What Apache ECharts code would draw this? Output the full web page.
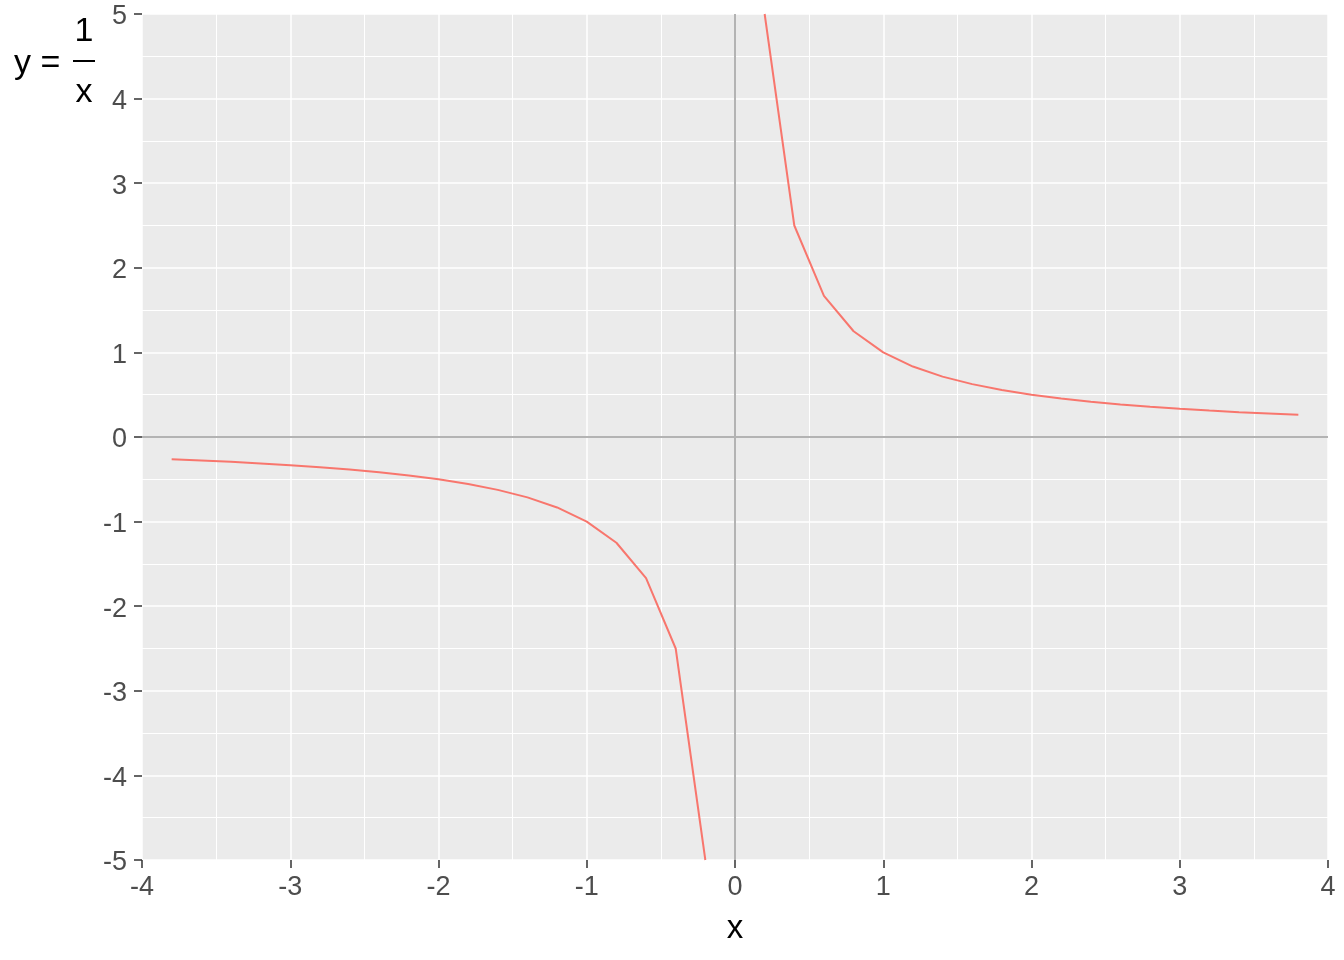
<!DOCTYPE html>
<html>
<head>
<meta charset="utf-8">
<script src="https://cdn.jsdelivr.net/npm/echarts@6/dist/echarts.min.js"></script>
<style>
  html, body { margin: 0; padding: 0; background: #fff; }
  #main { width: 1344px; height: 960px; }
</style>
</head>
<body>
<div id="main"></div>
<script>
// y = 1/x, sampled every 0.2, two branches
var xNeg = [-3.8, -3.6, -3.4, -3.2, -3.0, -2.8, -2.6, -2.4, -2.2, -2.0,
            -1.8, -1.6, -1.4, -1.2, -1.0, -0.8, -0.6, -0.4, -0.2];
var yNeg = [-0.263, -0.278, -0.294, -0.313, -0.333, -0.357, -0.385, -0.417, -0.455, -0.5,
            -0.556, -0.625, -0.714, -0.833, -1.0, -1.25, -1.667, -2.5, -5.0];
var xPos = [0.2, 0.4, 0.6, 0.8, 1.0, 1.2, 1.4, 1.6, 1.8, 2.0,
            2.2, 2.4, 2.6, 2.8, 3.0, 3.2, 3.4, 3.6, 3.8];
var yPos = [5.0, 2.5, 1.667, 1.25, 1.0, 0.833, 0.714, 0.625, 0.556, 0.5,
            0.455, 0.417, 0.385, 0.357, 0.333, 0.313, 0.294, 0.278, 0.263];
var xTicks = [-4, -3, -2, -1, 0, 1, 2, 3, 4];
var yTicks = [-5, -4, -3, -2, -1, 0, 1, 2, 3, 4, 5];

var FONT = "Liberation Sans, Arial, sans-serif";
var lineColor = "#F8766D";

function pairs(xs, ys) {
    return xs.map(function (x, i) { return [x, ys[i]]; });
}

var chart = echarts.init(document.getElementById("main"), null, { renderer: "canvas" });

function axisCommon(ticks) {
    return {
        type: "value",
        min: ticks[0],
        max: ticks[ticks.length - 1],
        interval: 1,
        axisLine: { show: false, onZero: false },
        axisTick: { show: true, length: 8, lineStyle: { color: "#333333", width: 1.5 } },
        axisLabel: { color: "#4D4D4D", fontSize: 27, fontFamily: FONT },
        splitLine: { show: true, lineStyle: { color: "#FFFFFF", width: 1.5 } },
        minorTick: { show: false, splitNumber: 2 },
        minorSplitLine: { show: true, lineStyle: { color: "#FFFFFF", width: 1 } }
    };
}

var xAxis = axisCommon(xTicks);
xAxis.axisLabel.margin = 14;
xAxis.name = "x";
xAxis.nameLocation = "middle";
xAxis.nameGap = 52;
xAxis.nameTextStyle = { color: "#000000", fontSize: 33, fontFamily: FONT };

var yAxis = axisCommon(yTicks);
yAxis.axisLabel.margin = 15;
yAxis.axisLabel.formatter = function (v) { return "{t|" + v + "}"; };
yAxis.axisLabel.rich = {
    t: { color: "#4D4D4D", fontSize: 27, fontFamily: FONT, padding: [6, 0, 0, 0] }
};

var option = {
    backgroundColor: "#FFFFFF",
    animation: false,
    grid: {
        left: 142, right: 16, top: 14, bottom: 100,
        show: true, backgroundColor: "#EBEBEB", borderWidth: 0
    },
    xAxis: xAxis,
    yAxis: yAxis,
    graphic: [
        { type: "text", left: 14, top: 47, style: { text: "y =", font: "34px " + FONT, fill: "#000" } },
        { type: "text", x: 84, y: 32, style: { text: "1", font: "34px " + FONT, fill: "#000", textAlign: "center", textVerticalAlign: "middle" } },
        { type: "line", shape: { x1: 73, y1: 61, x2: 95, y2: 61 }, style: { stroke: "#000", lineWidth: 2 } },
        { type: "text", x: 84, y: 93, style: { text: "x", font: "34px " + FONT, fill: "#000", textAlign: "center", textVerticalAlign: "middle" } }
    ],
    series: [
        {
            type: "line",
            data: pairs(xNeg, yNeg),
            showSymbol: false,
            lineStyle: { color: lineColor, width: 2 },
            z: 3,
            markLine: {
                silent: true,
                symbol: "none",
                label: { show: false },
                lineStyle: { color: "#B3B3B3", width: 2, type: "solid" },
                data: [{ xAxis: 0 }, { yAxis: 0 }],
                z: 1
            }
        },
        {
            type: "line",
            data: pairs(xPos, yPos),
            showSymbol: false,
            lineStyle: { color: lineColor, width: 2 },
            z: 3
        }
    ]
};

chart.setOption(option);
</script>
</body>
</html>
